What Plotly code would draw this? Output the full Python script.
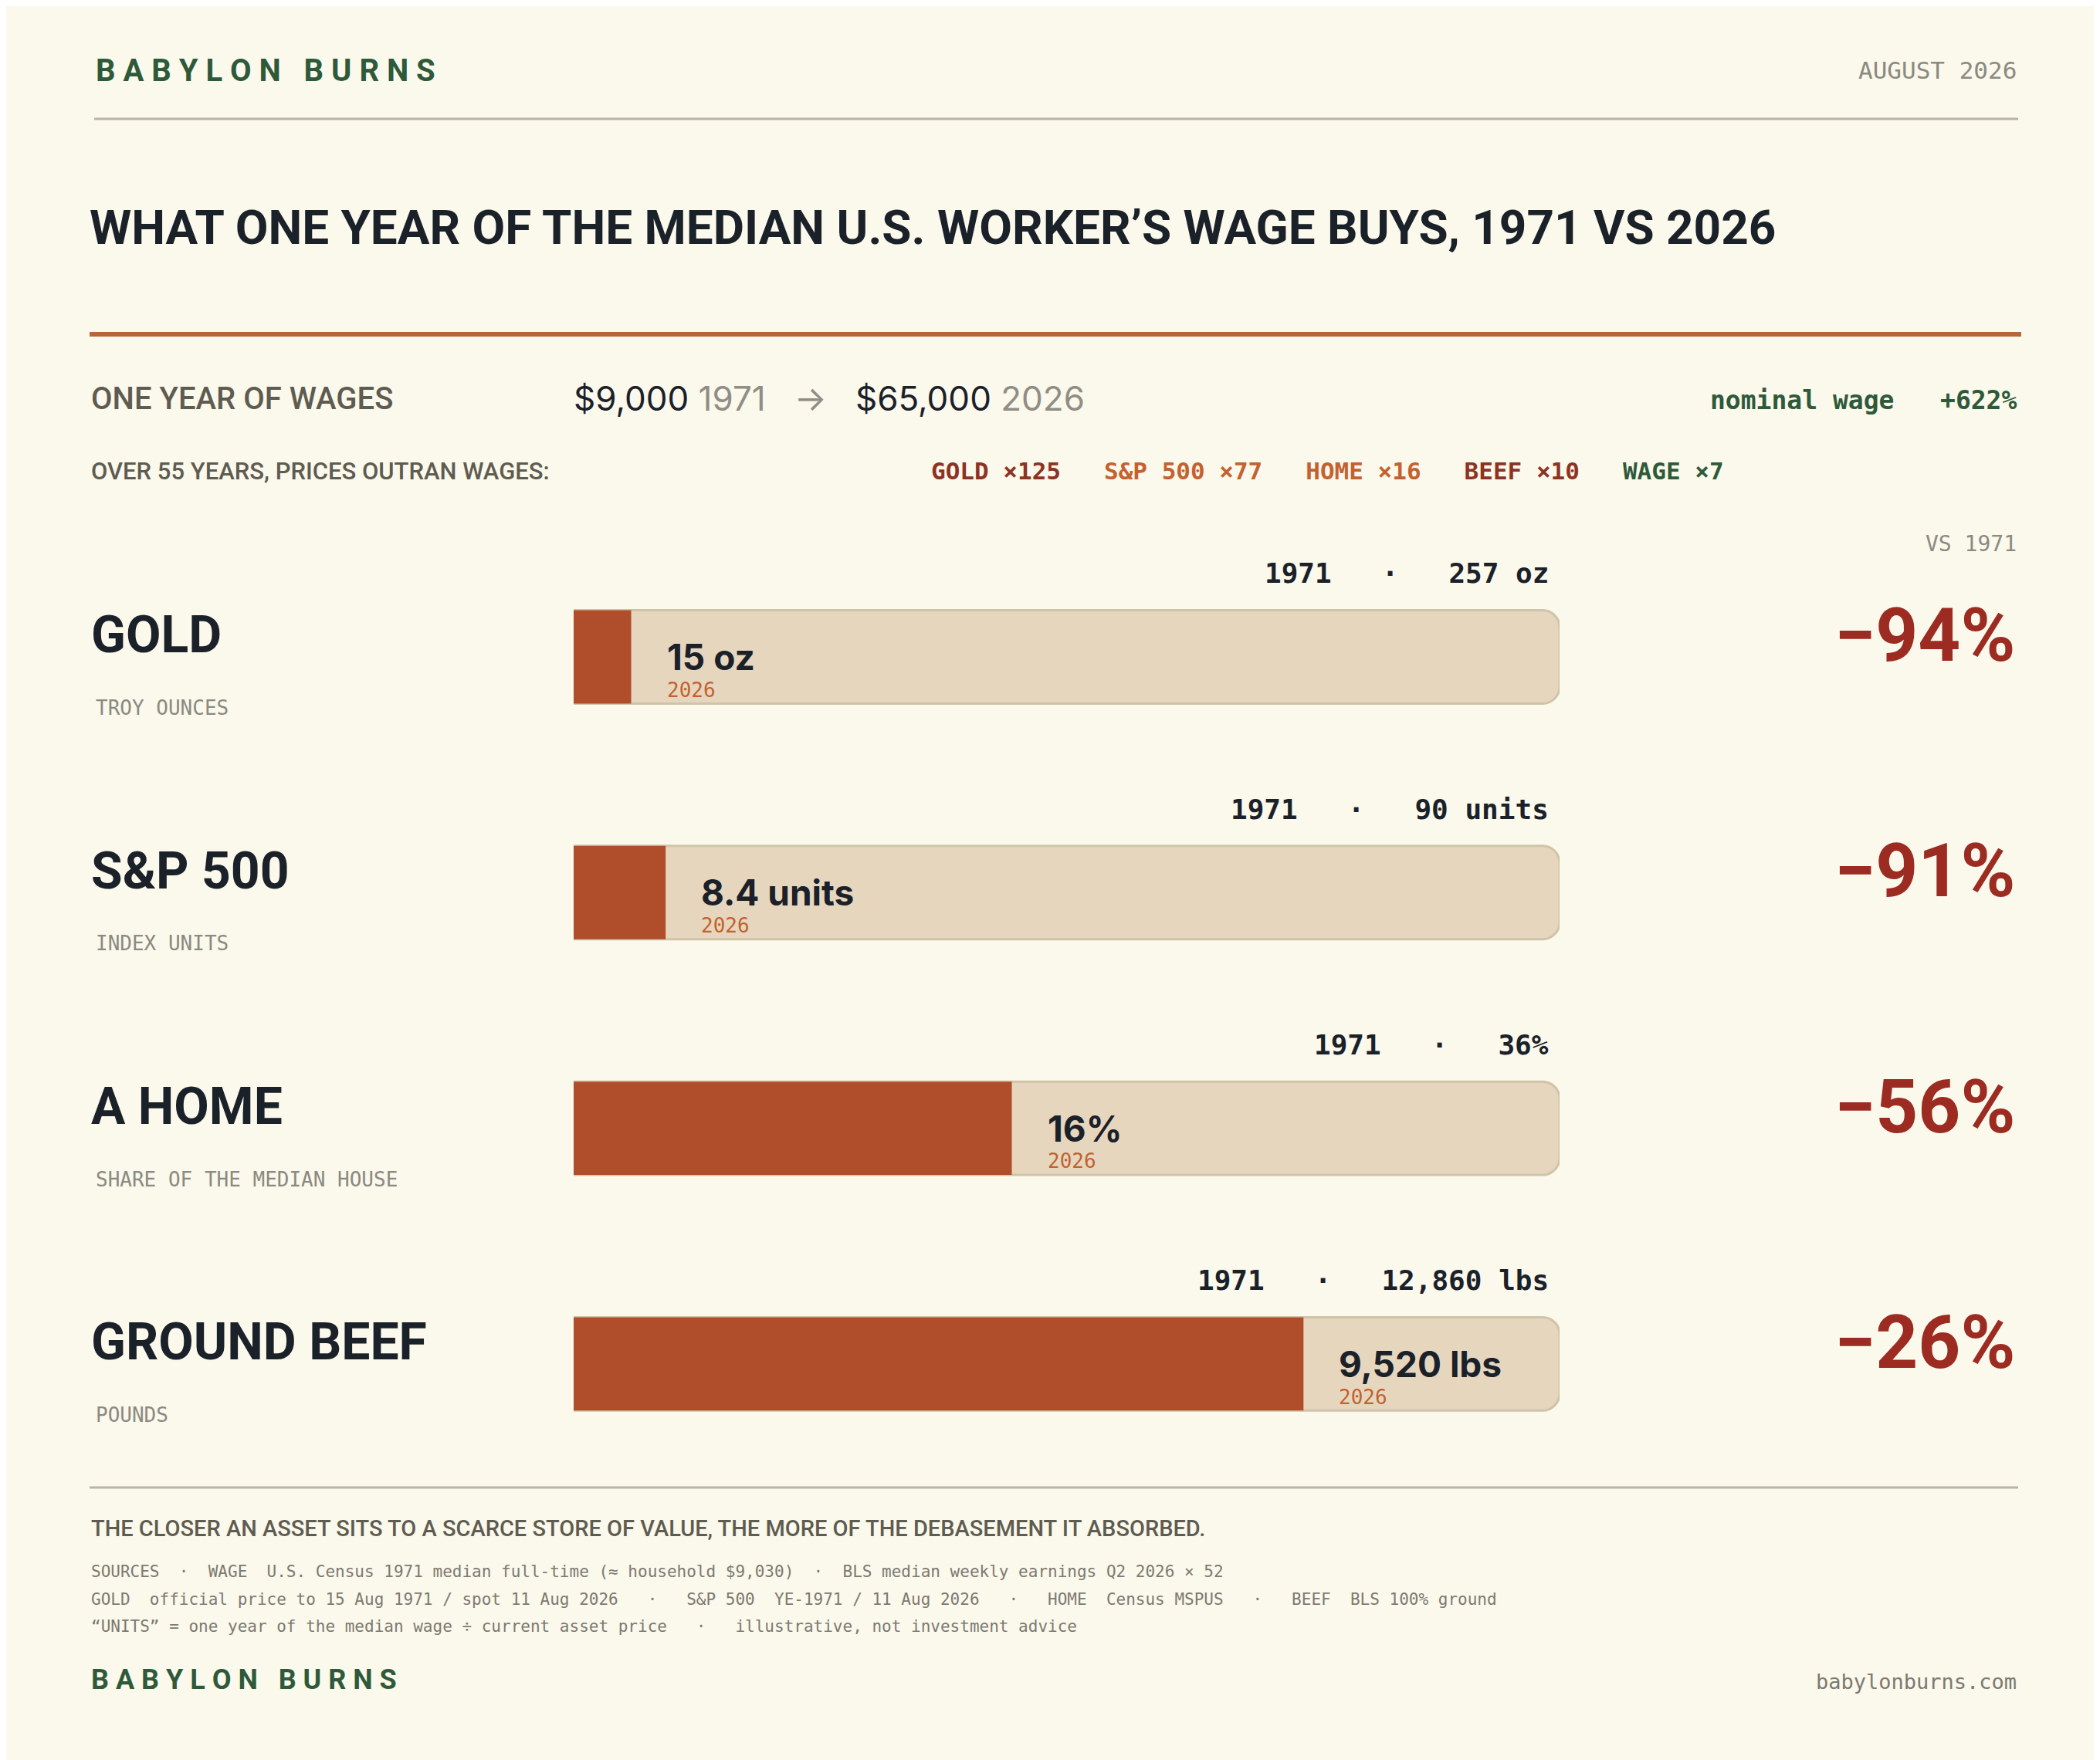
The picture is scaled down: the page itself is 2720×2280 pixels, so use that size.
import plotly.graph_objects as go

# data
assets = ["GOLD", "S&P 500", "A HOME", "GROUND BEEF"]
units = ["TROY OUNCES", "INDEX UNITS", "SHARE OF THE MEDIAN HOUSE", "POUNDS"]
v1971 = [257, 90, 36, 12860]
v2026 = [15, 8.4, 16, 9520]
label1971 = ["257 oz", "90 units", "36%", "12,860 lbs"]
label2026 = ["15 oz", "8.4 units", "16%", "9,520 lbs"]
change = ["−94%", "−91%", "−56%", "−26%"]
mult_names = ["GOLD ×125", "S&P 500 ×77", "HOME ×16", "BEEF ×10", "WAGE ×7"]
mult_colors = ["#8E3323", "#C4622F", "#C4622F", "#8E3323", "#2E5A3A"]

W, H = 2720, 2280
BG = "#FBF8EC"
COND = "Roboto, Liberation Sans, sans-serif"
MONO = "DejaVu Sans Mono, Liberation Mono, monospace"
SANS = "Inter, Noto Sans, sans-serif"

ROW0, STEP = 843, 305.3  # pixel centre of the first bar, row spacing
rows = list(range(len(assets)))
share = [b / a for a, b in zip(v1971, v2026)]

fig = go.Figure()
fig.add_trace(go.Bar(y=rows, x=[1] * len(rows), orientation="h", width=0.396,
                     marker=dict(color="#E7D6BE", line=dict(color="#CFC4A8", width=3),
                                 cornerradius=22), hoverinfo="skip"))
fig.add_trace(go.Bar(y=rows, x=share, orientation="h", width=0.396,
                     marker=dict(color="#B04E2C", line=dict(width=0), cornerradius=22),
                     hoverinfo="skip"))

fig.update_layout(
    width=W, height=H, paper_bgcolor=BG, plot_bgcolor="rgba(0,0,0,0)",
    margin=dict(l=0, r=0, t=0, b=0), showlegend=False, barmode="overlay",
    xaxis=dict(domain=[735 / W, 2012 / W], range=[0, 1], visible=False, fixedrange=True),
    yaxis=dict(domain=[0, 1], range=[(H - ROW0) / STEP, -ROW0 / STEP], visible=False),
)

ann = []
def txt(x, y, s, size, color, font=COND, xanchor="left", xref="paper", xshift=0, weight="normal"):
    ann.append(dict(x=x, y=y, text=s, xref=xref, yref="paper", showarrow=False, xanchor=xanchor,
                    yanchor="middle", xshift=xshift,
                    font=dict(size=size, color=color, family=font, weight=weight)))

def py(p):
    return 1 - p / H

def rowp(i, off):
    return py(ROW0 + (i + off) * STEP)

# header
txt(114 / W, py(83), "<b>B A B Y L O N   B U R N S</b>", 40, "#2E5A3A")
txt(2606 / W, py(83), "AUGUST 2026", 31, "#8A8A80", MONO, "right")
txt(106 / W, py(286), "<b>WHAT ONE YEAR OF THE MEDIAN U.S. WORKER’S WAGE BUYS, 1971 VS 2026</b>", 62, "#1B2129")
txt(108 / W, py(508), "ONE YEAR OF WAGES", 40, "#5E5C50", weight=500)
txt(733 / W, py(508), "$9,000 <span style='color:#8F8D84'>1971</span>   <span style='color:#8F8D84'>→</span>   $65,000 <span style='color:#8F8D84'>2026</span>", 44, "#1B2129", SANS)
txt(2606 / W, py(510), "<b>nominal wage   +622%</b>", 33, "#2E5A3A", MONO, "right")
txt(108 / W, py(602), "OVER 55 YEARS, PRICES OUTRAN WAGES:", 31, "#5E5C50", weight=500)
legend = "   ".join(f"<span style='color:{c}'>{n}</span>" for n, c in zip(mult_names, mult_colors))
txt(1196 / W, py(602), "<b>" + legend + "</b>", 31, "#333", MONO)
txt(2606 / W, py(696), "VS 1971", 28, "#8A8A80", MONO, "right")

for i in rows:
    txt(108 / W, rowp(i, -0.092), "<b>" + assets[i] + "</b>", 66, "#1B2129")
    txt(114 / W, rowp(i, 0.216), units[i], 26, "#8A8A80", MONO)
    txt(2000 / W, rowp(i, -0.354), f"<b>1971   ·   {label1971[i]}</b>", 36, "#1B2129", MONO, "right")
    txt(share[i], rowp(i, 0), "<b>" + label2026[i] + "</b>", 46, "#1B2129", SANS, xref="x", xshift=44)
    txt(share[i], rowp(i, 0.14), "2026", 26, "#C0622F", MONO, xref="x", xshift=44)
    txt(2604 / W, rowp(i, -0.092), "<b>" + change[i] + "</b>", 96, "#9C2B22", COND, "right")

txt(108 / W, py(1972), "THE CLOSER AN ASSET SITS TO A SCARCE STORE OF VALUE, THE MORE OF THE DEBASEMENT IT ABSORBED.", 29, "#5E5C50", weight=500)
src = [
    "SOURCES  ·  WAGE  U.S. Census 1971 median full-time (≈ household $9,030)  ·  BLS median weekly earnings Q2 2026 × 52",
    "GOLD  official price to 15 Aug 1971 / spot 11 Aug 2026   ·   S&P 500  YE-1971 / 11 Aug 2026   ·   HOME  Census MSPUS   ·   BEEF  BLS 100% ground",
    "“UNITS” = one year of the median wage ÷ current asset price   ·   illustrative, not investment advice",
]
for k, s in enumerate(src):
    txt(108 / W, py(2028 + 35.5 * k), s, 21, "#7C7A70", MONO)
txt(108 / W, py(2168), "<b>B A B Y L O N   B U R N S</b>", 36, "#2E5A3A")
txt(2606 / W, py(2170), "babylonburns.com", 27, "#7C7A70", MONO, "right")
fig.update_layout(annotations=ann)

fig.add_shape(type="line", xref="paper", yref="paper", x0=114 / W, x1=2606 / W, y0=py(146), y1=py(146),
              line=dict(color="#B9B5A4", width=3))
fig.add_shape(type="line", xref="paper", yref="paper", x0=108 / W, x1=2610 / W, y0=py(425), y1=py(425),
              line=dict(color="#B8653A", width=6))
fig.add_shape(type="line", xref="paper", yref="paper", x0=108 / W, x1=2606 / W, y0=py(1919), y1=py(1919),
              line=dict(color="#B9B5A4", width=3))

fig.write_html("out.html")
